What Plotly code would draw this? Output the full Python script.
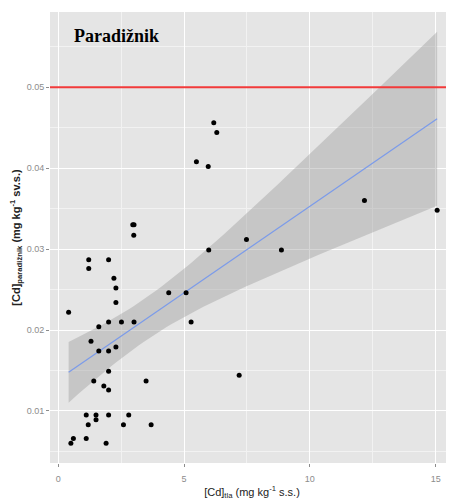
import numpy as np
import plotly.graph_objects as go

# [Cd] in soil (x) and in tomato (y)
cd_soil = [6.18, 6.30, 5.49, 5.96,
           12.17, 15.06, 2.96, 3.01, 3.00, 5.98, 7.48, 8.87, 1.21, 1.21, 2.00, 2.21, 2.29, 2.29,
           0.41, 1.61, 2.00, 2.51, 3.01, 4.39, 5.08, 5.28,
           1.30, 1.61, 2.00, 2.29, 2.00, 1.41, 1.81, 2.00, 3.49, 7.19,
           1.11, 1.50, 2.00, 2.80, 1.19, 1.50, 2.59, 3.69, 0.50, 0.60, 1.11, 1.90]
cd_tomato = [0.0456, 0.0444, 0.0408, 0.0402,
             0.0360, 0.0348, 0.0330, 0.0330, 0.0317, 0.0299, 0.0312, 0.0299, 0.0287, 0.0276, 0.0287, 0.0264, 0.0252, 0.0234,
             0.0222, 0.0204, 0.0210, 0.0210, 0.0210, 0.0246, 0.0246, 0.0210,
             0.0186, 0.0174, 0.0174, 0.0179, 0.0149, 0.0137, 0.0131, 0.0126, 0.0137, 0.0144,
             0.0095, 0.0095, 0.0095, 0.0095, 0.0083, 0.0089, 0.0083, 0.0083, 0.0060, 0.0066, 0.0066, 0.0060]
limit_value = 0.05
x_ticks = [0, 5, 10, 15]
y_ticks = [0.01, 0.02, 0.03, 0.04, 0.05]

x = np.array(cd_soil)
y = np.array(cd_tomato)
n = len(x)
b1, b0 = np.polyfit(x, y, 1)
resid = y - (b0 + b1 * x)
s = np.sqrt(np.sum(resid ** 2) / (n - 2))
xm = x.mean()
sxx = np.sum((x - xm) ** 2)
t_crit = 2.0129
xg = np.linspace(x.min(), x.max(), 80)
yg = b0 + b1 * xg
se = s * np.sqrt(1.0 / n + (xg - xm) ** 2 / sxx)
upper = yg + t_crit * se
lower = yg - t_crit * se

x_range = [-0.33, 15.73]
y_range = [0.00357, 0.0593]

fig = go.Figure()
fig.add_trace(go.Scatter(x=np.concatenate([xg, xg[::-1]]), y=np.concatenate([upper, lower[::-1]]),
                         fill="toself", fillcolor="rgba(153,153,153,0.4)", line=dict(width=0),
                         mode="lines", hoverinfo="skip", showlegend=False))
fig.add_trace(go.Scatter(x=xg, y=yg, mode="lines", line=dict(color="#7B9BEA", width=1.2), showlegend=False))
fig.add_trace(go.Scatter(x=x_range, y=[limit_value, limit_value], mode="lines",
                         line=dict(color="#F23A3A", width=1.8), showlegend=False))
fig.add_trace(go.Scatter(x=cd_soil, y=cd_tomato, mode="markers",
                         marker=dict(color="black", size=5), showlegend=False))

minor_grid = dict(showgrid=True, gridcolor="#F2F2F2", gridwidth=0.6)
fig.update_xaxes(range=x_range, tickvals=x_ticks, ticktext=[str(v) for v in x_ticks],
                 showgrid=True, gridcolor="white", gridwidth=1.2, zeroline=False, automargin=False,
                 ticks="outside", ticklen=3, tickcolor="#8C8C8C", ticklabelstandoff=4,
                 tickfont=dict(family="Liberation Sans, Arial", size=9, color="#8C8C8C"),
                 minor=dict(tickvals=[2.5, 7.5, 12.5], **minor_grid),
                 title=dict(text="[Cd]<sub>tla</sub> (mg kg<sup>-1</sup> s.s.)", standoff=5,
                            font=dict(family="Liberation Sans, Arial", size=11, color="#222")))
fig.update_yaxes(range=y_range, tickvals=y_ticks, ticktext=[f"{v:.2f}" for v in y_ticks],
                 showgrid=True, gridcolor="white", gridwidth=1.2, zeroline=False, automargin=False,
                 ticks="outside", ticklen=3, tickcolor="#8C8C8C",
                 tickfont=dict(family="Liberation Sans, Arial", size=9, color="#8C8C8C"),
                 minor=dict(tickvals=[0.005, 0.015, 0.025, 0.035, 0.045, 0.055], **minor_grid),
                 title=dict(text="<b>[Cd]<sub>paradižnik</sub> (mg kg<sup>-1</sup> sv.s.)</b>", standoff=6,
                            font=dict(family="Liberation Sans, Arial", size=11, color="#222")))
fig.add_annotation(text="<b>Paradižnik</b>", xref="paper", yref="paper", x=0.054, y=0.947,
                   xanchor="left", yanchor="middle", showarrow=False,
                   font=dict(family="Liberation Serif, Times New Roman", size=18, color="black"))
fig.update_layout(width=446, height=494, margin=dict(l=42, r=0, t=4, b=39),
                  plot_bgcolor="#E5E5E5", paper_bgcolor="white")
fig.write_html("out.html")
